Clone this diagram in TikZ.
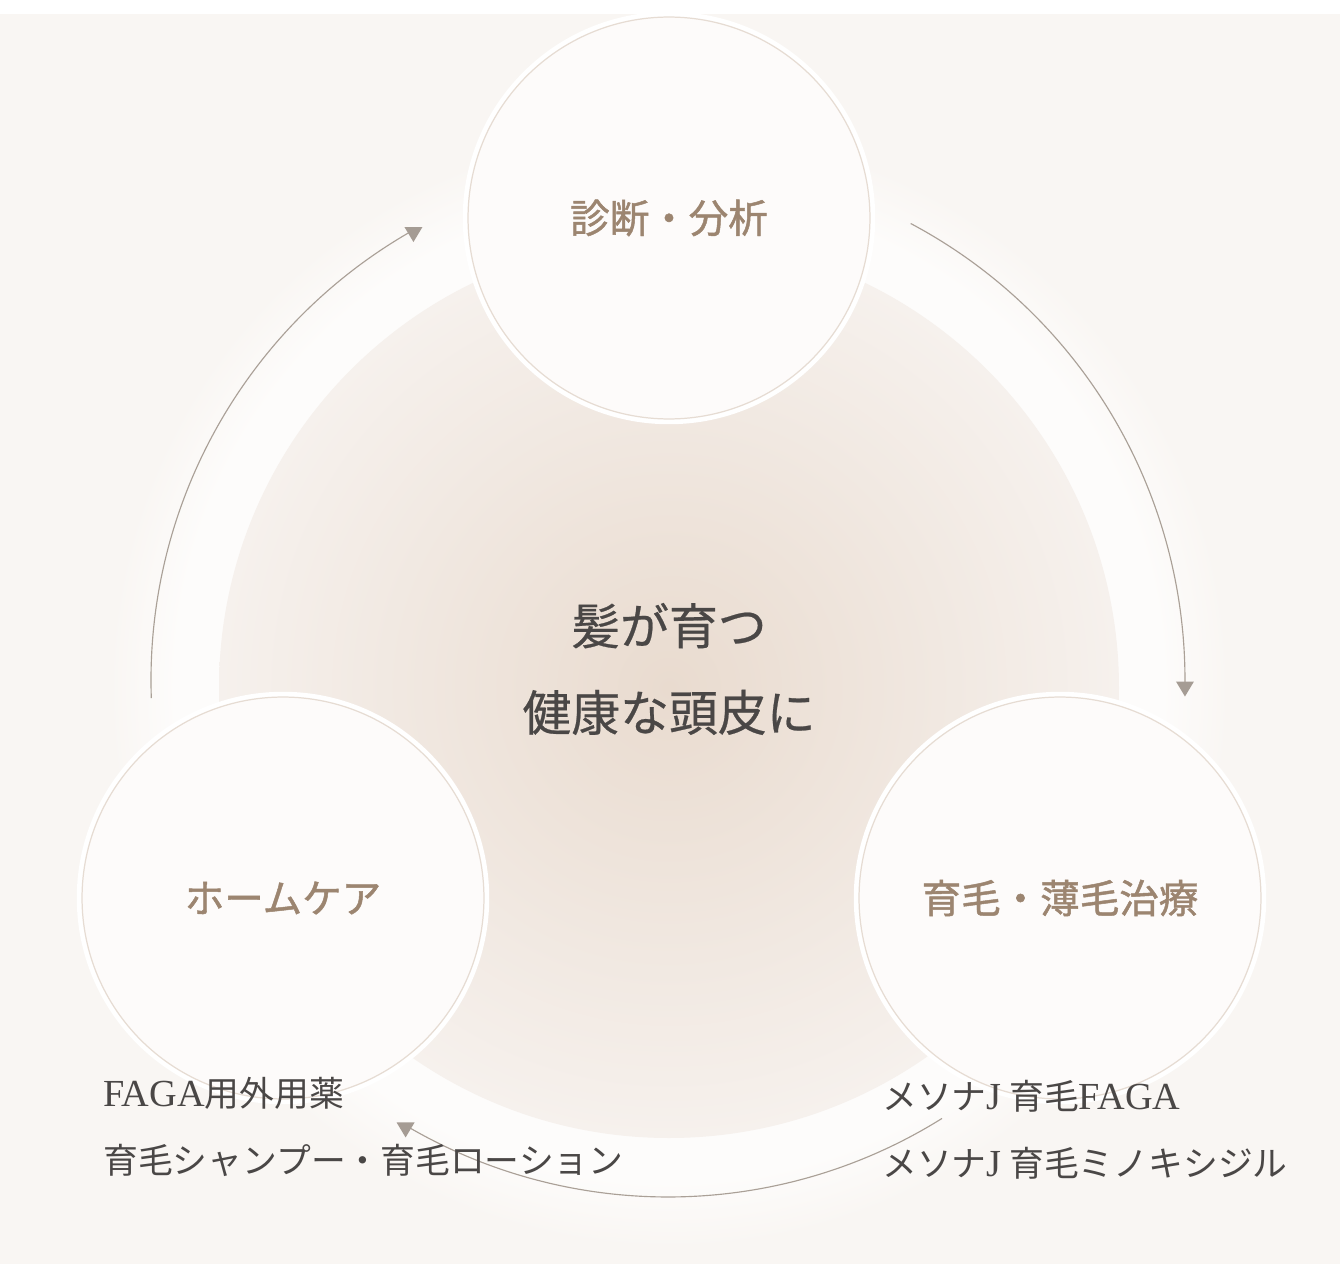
\documentclass[tikz,border=0pt]{standalone}
\usepackage{fontspec}
\setmainfont{Noto Sans CJK JP}
\newfontfamily\heavyjp{Noto Sans CJK JP}[FakeBold=1.2]
\newfontfamily\mediumjp{Noto Sans CJK JP}[FakeBold=0.5]
\newfontfamily\romanlat{Liberation Serif}[Scale=1.1]
\usetikzlibrary{calc}
\definecolor{paper}{RGB}{249,246,243}
\definecolor{halo}{RGB}{253,252,251}
\definecolor{hubcore}{RGB}{233,219,207}
\definecolor{hubrim}{RGB}{246,241,237}
\definecolor{discrim}{RGB}{230,220,211}
\definecolor{discfill}{RGB}{253,251,250}
\definecolor{looprule}{RGB}{170,160,151}
\definecolor{headfill}{RGB}{165,156,148}
\definecolor{titleink}{RGB}{156,133,112}
\definecolor{bodyink}{RGB}{74,71,70}
\pgfdeclareradialshading{hubglow}{\pgfpoint{0bp}{0bp}}{color(0bp)=(halo); color(22bp)=(halo); color(25bp)=(paper); color(50bp)=(paper)}
\pgfdeclareradialshading{hubfade}{\pgfpoint{0bp}{0bp}}{color(0bp)=(hubcore); color(25bp)=(hubrim); color(50bp)=(hubrim)}

\begin{document}
\begin{tikzpicture}[x=0.02cm, y=-0.02cm,
	disc/.style={circle, draw=discrim, line width=0.7pt, fill=discfill, minimum size=8.04cm, inner sep=0pt, preaction={draw=white, line width=6pt}, text=titleink, font=\heavyjp\fontsize{22.5}{27}\selectfont},
	cycleline/.style={draw=looprule, line width=0.65pt},
	arrowhead/.style={fill=headfill},
	list/.style={anchor=west, align=left, inner sep=0pt, text=bodyink, font=\fontsize{19.8}{38}\selectfont}]
	\fill[paper] (0,0) rectangle (1340,1264);
	\fill[white] (0,0) rectangle (1340,14);
	\useasboundingbox (0,0) rectangle (1340,1264);

	\coordinate (hub) at (669,688);
	\coordinate (loopc) at (668,680);
	\shade[shading=hubglow] (hub) circle [radius = 560];
	\shade[shading=hubfade] (hub) circle [radius = 450];

	% three arcs round the hub, each ending in a flat-topped head
	\foreach \a in {0,120,240} {
		\draw [cycleline] ($(loopc)+(\a-62:517)$) coordinate (from\a)
			arc [start angle = \a-62, end angle = \a+0.5, radius = 517] coordinate (to\a);
		\fill [arrowhead] ($(to\a)+(-9,-3)$) -- ($(to\a)+(9,-3)$) -- ($(to\a)+(0,12)$) -- cycle;
	}

	\node [disc] (diag) at (669,218) {診断・分析};
	\node [disc] (care) at (283,898) {ホームケア};
	\node [disc] (cure) at (1060,898) {育毛・薄毛治療};

	\node [align=center, text=bodyink, font=\mediumjp\fontsize{27.8}{49.3}\selectfont] (motto) at (669,669) {髪が育つ\\健康な頭皮に};

	\node [list] (carelist) at (103,1127) {{\romanlat FAGA}用外用薬\\育毛シャンプー・育毛ローション};
	\node [list] (curelist) at (882,1130) {メソナ{\romanlat J} 育毛{\romanlat FAGA}\\メソナ{\romanlat J} 育毛ミノキシジル};
\end{tikzpicture}
\end{document}
